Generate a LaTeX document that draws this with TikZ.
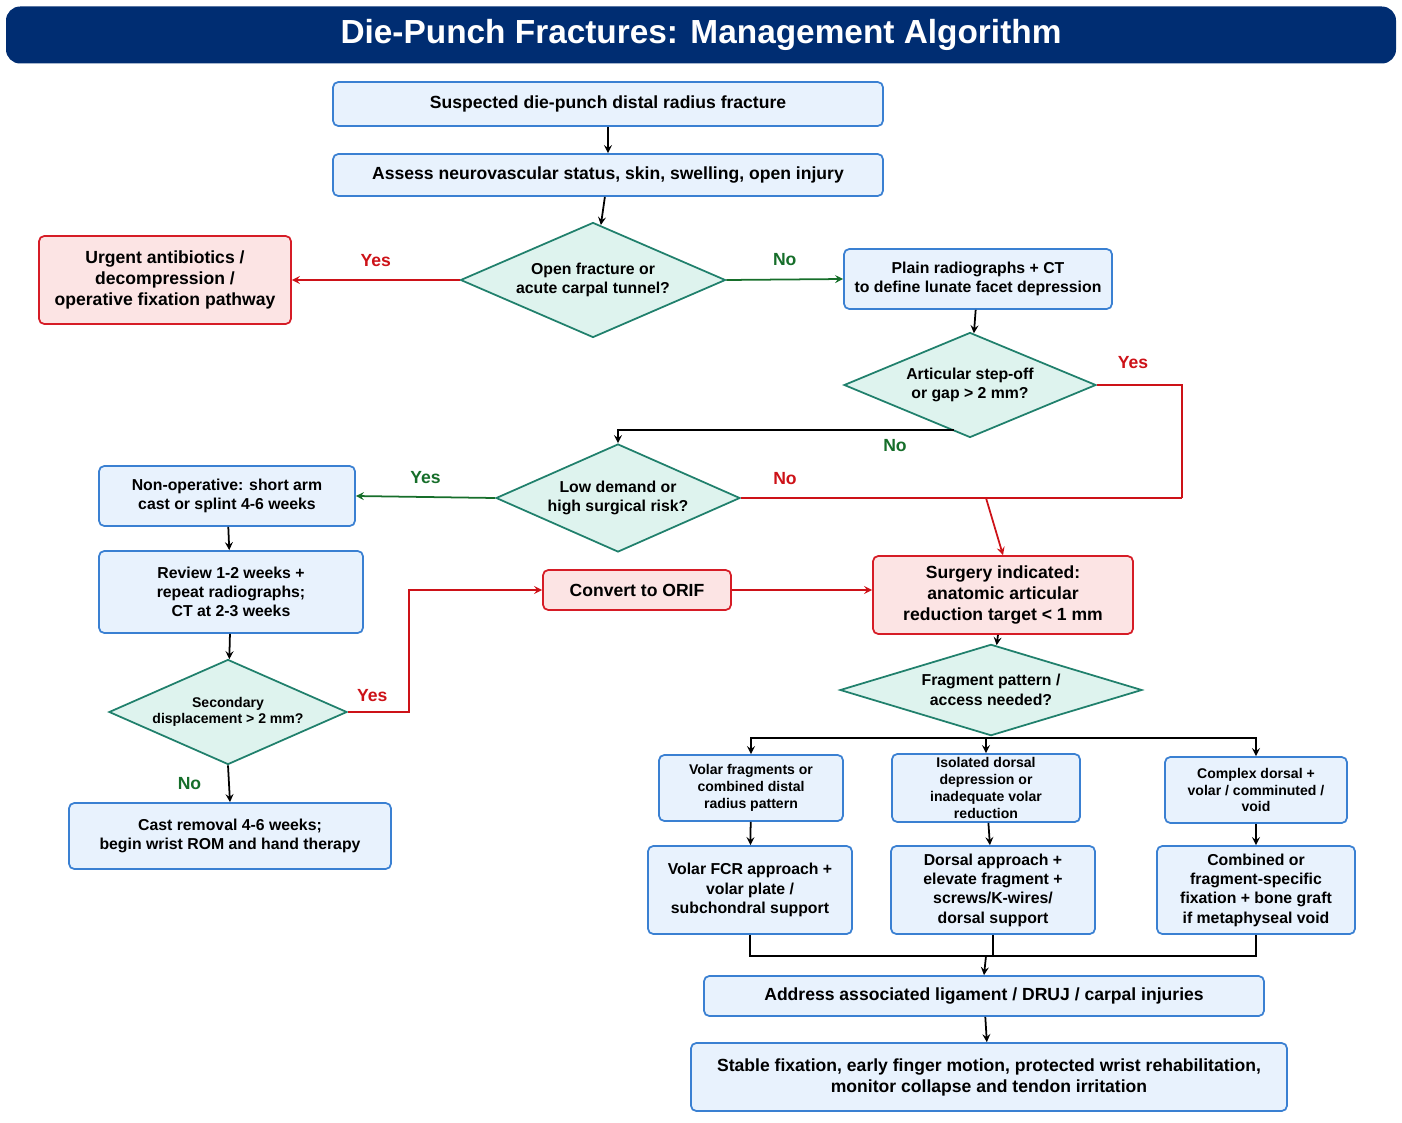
\documentclass[tikz,border=0pt]{standalone}
\usepackage{fontspec}
\setmainfont{Liberation Sans}
\usetikzlibrary{shapes.geometric,calc}
\definecolor{boxfill}{RGB}{232,242,253}
\definecolor{boxline}{RGB}{58,128,210}
\definecolor{redfill}{RGB}{252,228,228}
\definecolor{redline}{RGB}{214,28,38}
\definecolor{dfill}{RGB}{222,243,238}
\definecolor{dline}{RGB}{32,128,108}
\definecolor{yesred}{RGB}{205,18,24}
\definecolor{nogreen}{RGB}{22,110,42}
\definecolor{titleblue}{RGB}{0,45,114}
\begin{document}
\begin{tikzpicture}[
        x=0.02cm, y=-0.02cm,
        font=\bfseries,
        box/.style 2 args={rectangle, rounded corners=3pt, draw=boxline, fill=boxfill, line width=1pt, minimum width=#1*0.02cm, minimum height=#2*0.02cm, align=center, inner sep=1pt},
        redbox/.style 2 args={box={#1}{#2}, draw=redline, fill=redfill},
        decision/.style 2 args={diamond, draw=dline, fill=dfill, line width=1pt, minimum width=#1*0.02cm, minimum height=#2*0.02cm, aspect=2.3, inner sep=0pt, align=center, font=\bfseries\small},
        arrow/.style={->, >=stealth, line width=1pt},
        yes/.style={arrow, draw=yesred},
        no/.style={arrow, draw=nogreen},
        lblyes/.style={text=yesred, font=\bfseries},
        lblno/.style={text=nogreen, font=\bfseries}
    ]
    \useasboundingbox (0,0) rectangle (1402,1122);

    % Title
    \node[rectangle, rounded corners=8pt, fill=titleblue, minimum width=1390*0.02cm, minimum height=57*0.02cm, text=white, font=\bfseries\fontsize{19}{22}\selectfont] (title) at (701,35) {Die-Punch Fractures: Management Algorithm};

    % Boxes
    \node[box={550}{44}] (suspect) at (608,104) {Suspected die-punch distal radius fracture};
    \node[box={550}{42}] (assess) at (608,175) {Assess neurovascular status, skin, swelling, open injury};
    \node[decision={265}{115}] (open) at (593,280) {Open fracture or\\acute carpal tunnel?};
    \node[redbox={252}{88}] (urgent) at (165,280) {Urgent antibiotics /\\decompression /\\operative fixation pathway};
    \node[box={268}{60}, font=\bfseries\small] (plain) at (978,279) {Plain radiographs + CT\\to define lunate facet depression};
    \node[decision={252}{105}] (stepoff) at (970,385) {Articular step-off\\or gap > 2 mm?};
    \node[decision={244}{108}] (lowdem) at (618,498) {Low demand or\\high surgical risk?};
    \node[box={256}{60}, font=\bfseries\small] (nonop) at (227,496) {Non-operative: short arm\\cast or splint 4-6 weeks};
    \node[box={264}{82}, font=\bfseries\small] (review) at (231,592) {Review 1-2 weeks +\\repeat radiographs;\\CT at 2-3 weeks};
    \node[decision={238}{105}, font=\bfseries\footnotesize] (second) at (228,712) {Secondary\\displacement > 2 mm?};
    \node[box={322}{66}, font=\bfseries\small] (cast) at (230,836) {Cast removal 4-6 weeks;\\begin wrist ROM and hand therapy};
    \node[redbox={188}{40}] (convert) at (637,590) {Convert to ORIF};
    \node[redbox={260}{78}] (surgery) at (1003,595) {Surgery indicated:\\anatomic articular\\reduction target < 1 mm};
    \node[decision={302}{70}] (pattern) at (991,690) {Fragment pattern /\\access needed?};

    % Fragment-specific branches
    \node[box={184}{66}, font=\bfseries\footnotesize] (volar) at (751,788) {Volar fragments or\\combined distal\\radius pattern};
    \node[box={188}{68}, font=\bfseries\footnotesize] (dorsal) at (986,788) {Isolated dorsal\\depression or\\inadequate volar\\reduction};
    \node[box={182}{66}, font=\bfseries\footnotesize] (complex) at (1256,790) {Complex dorsal +\\volar / comminuted /\\void};
    \node[box={204}{88}, font=\bfseries\small] (volarfix) at (750,890) {Volar FCR approach +\\volar plate /\\subchondral support};
    \node[box={204}{88}, font=\bfseries\small] (dorsalfix) at (993,890) {Dorsal approach +\\elevate fragment +\\screws/K-wires/\\dorsal support};
    \node[box={198}{88}, font=\bfseries\small] (combfix) at (1256,890) {Combined or\\fragment-specific\\fixation + bone graft\\if metaphyseal void};
    \node[box={560}{40}] (address) at (984,996) {Address associated ligament / DRUJ / carpal injuries};
    \node[box={596}{68}] (stable) at (989,1077) {Stable fixation, early finger motion, protected wrist rehabilitation,\\monitor collapse and tendon irritation};

    % Helper points
    \coordinate (rjoin) at (1182,498);
    \coordinate (sjoin) at (986,498);
    \coordinate (fbus) at (991,738);
    \coordinate (bbus) at (986,956);

    % Connectors
    \draw[arrow] (suspect) -- (assess);
    \draw[arrow] (assess) -- (open);
    \draw[yes] (open.west) -- node[lblyes, above=4pt] {Yes} (urgent.east);
    \draw[no] (open.east) -- node[lblno, above=4pt] {No} (plain.west);
    \draw[arrow] (plain) -- (stepoff);
    \draw[arrow] (stepoff.250) |- (618,430) -- (lowdem.north);
    \node[lblno] at (895,446) {No};
    \draw[line width=1pt, draw=yesred] (stepoff.east) -| (rjoin);
    \node[lblyes] at (1133,363) {Yes};
    \draw[line width=1pt, draw=yesred] (lowdem.east) -- node[lblyes, above=4pt, pos=0.1] {No} (rjoin);
    \draw[yes] (sjoin) -- (surgery.north);
    \draw[no] (lowdem.west) -- node[lblno, above=4pt] {Yes} (nonop.east);
    \draw[arrow] (nonop) -- (review);
    \draw[arrow] (review) -- (second);
    \draw[yes] (second.east) -| node[lblyes, above=2pt, pos=0.2] {Yes} (409,590) -- (convert.west);
    \draw[arrow] (second.south) -- node[lblno, left=12pt] {No} (cast.north);
    \draw[yes] (convert.east) -- (surgery.west |- convert.east);
    \draw[arrow] (surgery) -- (pattern);
    \draw[line width=1pt] (pattern.south) -- (fbus);
    \draw[arrow] (fbus) -| (volar.north);
    \draw[arrow] (fbus) -| (complex.north);
    \draw[arrow] (fbus) -| (dorsal.north);
    \draw[arrow] (volar) -- (volarfix);
    \draw[arrow] (dorsal) -- (dorsalfix);
    \draw[arrow] (complex) -- (combfix);
    \draw[line width=1pt] (volarfix.south) |- (bbus) -| (combfix.south);
    \draw[line width=1pt] (dorsalfix.south) |- (bbus);
    \draw[arrow] (bbus) -- (address.north);
    \draw[arrow] (address) -- (stable);

\end{tikzpicture}
\end{document}
